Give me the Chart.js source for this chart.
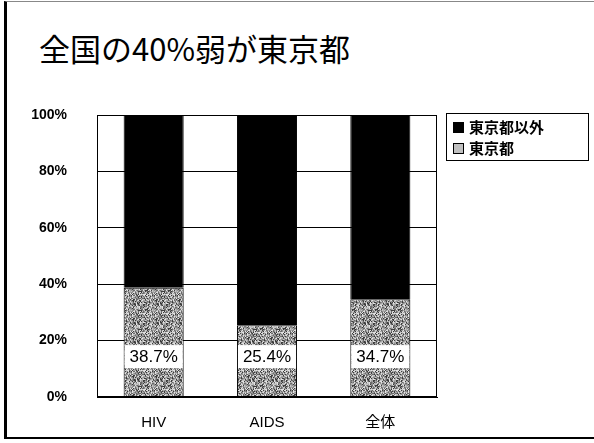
<!DOCTYPE html>
<html>
<head>
<meta charset="utf-8">
<script src="https://cdn.jsdelivr.net/npm/chart.js@4"></script>
<style>
html,body{margin:0;padding:0;background:#fff;}
#wrap{position:relative;width:594px;height:443px;overflow:hidden;background:#fff;}
#frame{position:absolute;left:4px;top:1px;width:587px;height:435px;border-left:3px solid #000;border-bottom:2px solid #000;border-top:1px solid #888;border-right:1px solid #888;box-sizing:content-box;}
#title{position:absolute;left:39px;top:25px;font-family:"Noto Sans CJK JP","Noto Sans",sans-serif;font-size:31px;color:#000;white-space:nowrap;}
#legend{position:absolute;left:446px;top:113px;width:141px;height:46px;border:1px solid #000;font-family:"Noto Sans CJK JP",sans-serif;font-weight:bold;font-size:15px;}
#legend div{position:absolute;left:6px;height:20px;line-height:20px;white-space:nowrap;}
#legend span.sw{display:inline-block;width:9px;height:9px;border:1px solid #000;margin-right:5px;vertical-align:0px;}
canvas{position:absolute;left:0;top:0;}
</style>
</head>
<body>
<div id="wrap">
<div id="frame"></div>
<div id="title">全国の40%弱が東京都</div>
<canvas id="c" width="594" height="443"></canvas>
<div id="legend"></div>
</div>
<script>
const categories = ['HIV', 'AIDS', '全体'];
const tokyo = [38.7, 25.4, 34.7];
const others = [61.3, 74.6, 65.3];
const yTicks = [0, 20, 40, 60, 80, 100];
const labelAt = 14.5; // where the % box sits

// grey scanned-looking dither, fixed bitmap from an integer hash (no randomness)
function makePattern(){
  const p = document.createElement('canvas');
  p.width = 23; p.height = 19;
  const g = p.getContext('2d');
  const shades = ['#3c3c3c','#6a6a6a','#8e8e8e','#a8a8a8','#c6c6c6','#e2e2e2'];
  for (let i=0;i<23;i++) for (let j=0;j<19;j++){
    let h = (i*73856093) ^ (j*19349663);
    h = ((h >>> 13) ^ h) * 1274126177;
    h = (h >>> 16) ^ h;
    g.fillStyle = shades[Math.abs(h) % shades.length];
    g.fillRect(i,j,1,1);
  }
  return g.createPattern(p,'repeat');
}
const grey = makePattern();

const boxPlugin = {
  id:'box',
  afterDatasetsDraw(chart){
    const {ctx, chartArea:a, scales} = chart;
    ctx.save();
    ctx.strokeStyle = '#000'; ctx.lineWidth = 1;
    ctx.strokeRect(a.left+0.5, a.top+0.5, a.right-a.left-1, a.bottom-a.top-1);
    // percentage boxes
    const meta = chart.getDatasetMeta(0);
    const y = scales.y.getPixelForValue(labelAt);
    ctx.font = '17px "Liberation Sans", Arial, sans-serif';
    ctx.textAlign = 'center'; ctx.textBaseline = 'middle';
    meta.data.forEach((bar, i)=>{
      const w = bar.width;
      const txt = tokyo[i].toFixed(1) + '%';
      ctx.fillStyle = '#fff';
      ctx.fillRect(bar.x - w/2 + 1, y - 11, w - 2, 23);
      ctx.fillStyle = '#000';
      ctx.fillText(txt, bar.x, y + 1);
    });
    ctx.restore();
  }
};

new Chart(document.getElementById('c'), {
  type:'bar',
  data:{
    labels: categories,
    datasets:[
      {label:'東京都', data: tokyo, backgroundColor: grey, borderColor:'#000', borderWidth:1},
      {label:'東京都以外', data: others, backgroundColor:'#000', borderColor:'#000', borderWidth:1}
    ]
  },
  options:{
    responsive:false,
    animation:false,
    layout:{padding:{top:115, right:157, bottom:0, left:0}},
    plugins:{legend:{display:false}, tooltip:{enabled:false}},
    datasets:{bar:{categoryPercentage:1, barPercentage:0.53}},
    scales:{
      x:{
        stacked:true,
        afterFit:s=>{ s.height = 46; },
        grid:{display:false},
        border:{color:'#000'},
        ticks:{color:'#000', padding:9, font:{family:'"Liberation Sans", "Noto Sans CJK JP", sans-serif', size:15}}
      },
      y:{
        stacked:true, min:0, max:100,
        afterFit:s=>{ s.width = 97; },
        afterBuildTicks:s=>{ s.ticks = yTicks.map(v=>({value:v})); },
        grid:{color:'#000', lineWidth:1, drawTicks:false},
        border:{color:'#000'},
        ticks:{color:'#000', padding:30, callback:v=>v+'%', font:{family:'"Liberation Sans", Arial, sans-serif', size:14, weight:'bold'}}
      }
    }
  },
  plugins:[boxPlugin]
});

// legend, top item first like the original
const lg = document.getElementById('legend');
[['東京都以外','#000'],['東京都','grey']].forEach((it, i)=>{
  const d = document.createElement('div');
  d.style.top = (3 + i*21) + 'px';
  const sw = document.createElement('span');
  sw.className = 'sw';
  sw.style.background = it[1] === 'grey' ? '#c0c0c0' : '#000';
  d.appendChild(sw);
  d.appendChild(document.createTextNode(it[0]));
  lg.appendChild(d);
});
</script>
</body>
</html>
